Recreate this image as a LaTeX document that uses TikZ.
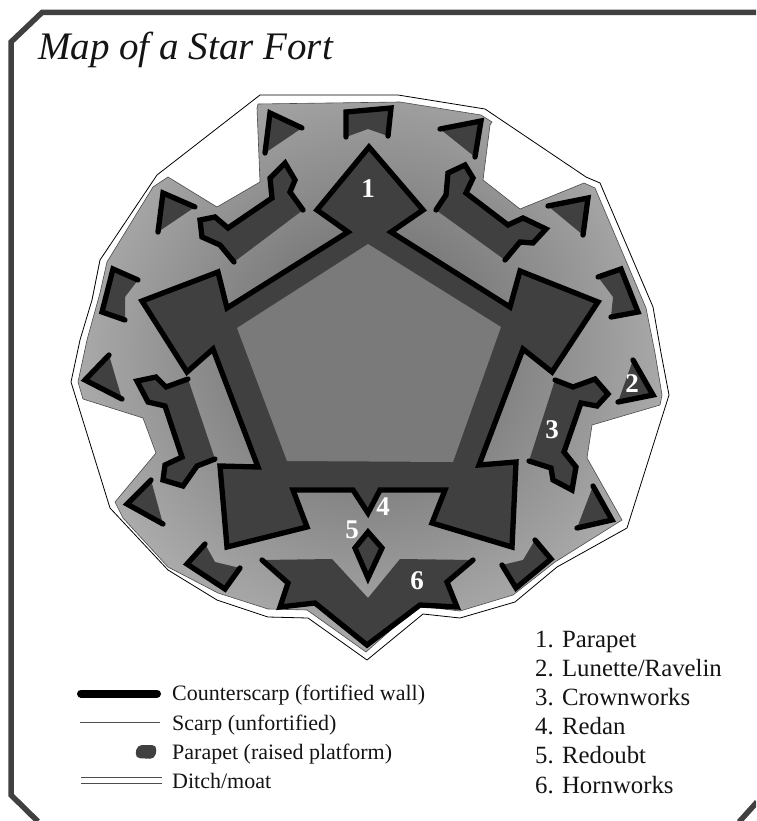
\documentclass[tikz,border=0pt]{standalone}
\usepackage{fontspec}
\setmainfont{Liberation Serif}
\definecolor{dk}{gray}{0.25}
\definecolor{framec}{gray}{0.25}
\definecolor{txt}{gray}{0.08}
\newcommand{\ditchpath}{(258,104) -- (400,102) -- (481,115) -- (492,122) -- (490,125) -- (483,180) -- (520,209) -- (584,183) -- (595,188) -- (646,308) -- (655,353) -- (662,395) -- (660,405) -- (592,425) -- (587,458) -- (622,520) -- (555,562) -- (513,595) -- (460,611) -- (418,606) -- (366,652) -- (307,610) -- (268,609) -- (218,593) -- (168,567) -- (123,518) -- (115,502) -- (156,453) -- (143,418) -- (83,399) -- (78,382) -- (87,340) -- (100,293) -- (107,262) -- (153,187) -- (168,177) -- (217,207) -- (260,182) -- (257,108) -- cycle}
\tikzset{
  wall/.style={line width=5.3pt,black,line cap=round,line join=miter,miter limit=6},
  work/.style={fill=dk,draw=none},
  thinline/.style={line width=0.8pt,black,line join=round},
  num/.style={text=white,font=\fontsize{27}{27}\selectfont\bfseries,anchor=center,inner sep=0pt},
  legendtext/.style={text=txt,font=\fontsize{22}{22}\selectfont,anchor=base west,inner sep=0pt},
  listtext/.style={text=txt,font=\fontsize{24.8}{25}\selectfont,anchor=base west,inner sep=0pt},
}
\begin{document}
\begin{tikzpicture}[x=1pt,y=-1pt]
\useasboundingbox (0,0) rectangle (756,821);
\clip (0,0) rectangle (756,821);
% frame
\draw[framec,line width=5.5pt,line join=miter] (756,12.5) -- (42,12.5) -- (11,42) -- (11,795) -- (38,821.5);
\draw[framec,line width=5.5pt] (739,822) -- (757,802);
% scarp / ditch
\draw[thinline,fill=white] (260,95) -- (398,95) -- (485,109) -- (586,177) -- (600,183) -- (653,307) -- (661,353) -- (669,395) -- (627,528) -- (557,567) -- (515,602) -- (460,618) -- (423,614) -- (367,660) -- (308,618) -- (268,617) -- (217,600) -- (168,570) -- (110,508) -- (71,382) -- (80,340) -- (92,300) -- (100,260) -- (157,175) -- cycle;
% graded ground
\begin{scope}
\clip \ditchpath;
\shade[inner color=black!62,outer color=black!30] (372,350) circle (330);
\end{scope}
\draw[line width=0.6pt,black!70] \ditchpath;
% main fort
\draw[wall,fill=dk] (348,232) -- (317,210) -- (369,147) -- (423,210) -- (391,232) -- (510,307) -- (520,271) -- (598,302) -- (552,372) -- (523,349) -- (479,465) -- (516,462) -- (512,547) -- (432,523) -- (445,490) -- (380,490) -- (368,513) -- (353,490) -- (293,490) -- (307,527) -- (227,547) -- (220,466) -- (258,467) -- (213,349) -- (187,372) -- (142,301) -- (218,272) -- (227,308) -- cycle;
\fill[black!52] (368,244) -- (501,327) -- (453,462) -- (287,461) -- (237,328) -- cycle;
% redoubt
\draw[wall,fill=dk] (368,532) -- (355,548) -- (368,578) -- (382,548) -- cycle;
% hornwork
\fill[work] (262,560) -- (332,559) -- (368,598) -- (400,559) -- (473,560) -- (447,582) -- (457,607) -- (420,605) -- (367,645) -- (315,603) -- (280,607) -- (288,583) -- cycle;
\draw[wall] (262,560) -- (288,583) -- (280,607) -- (315,603) -- (367,645) -- (420,605) -- (457,607) -- (447,582) -- (473,560);
% crownworks
\draw[wall,fill=dk] (303,210) -- (290,192) -- (295,180) -- (285,163) -- (270,178) -- (272,198) -- (228,228) -- (215,217) -- (200,220) -- (202,237) -- (220,245) -- (234,262);
\draw[wall,fill=dk] (436,210) -- (446,195) -- (448,173) -- (465,165) -- (473,178) -- (466,193) -- (508,225) -- (523,218) -- (546,229) -- (533,243) -- (520,242) -- (505,260);
\draw[wall,fill=dk] (188,379) -- (166,387) -- (156,377) -- (137,381) -- (148,402) -- (165,406) -- (182,457) -- (165,465) -- (163,480) -- (183,486) -- (197,466) -- (215,459);
\draw[wall,fill=dk] (555,380) -- (573,387) -- (595,379) -- (608,394) -- (597,406) -- (581,403) -- (564,452) -- (576,467) -- (572,490) -- (553,480) -- (551,468) -- (529,461);
% lunettes
\draw[wall,fill=dk] (302,128) -- (270,113) -- (265,153);
\draw[wall,fill=dk] (195,207) -- (163,193) -- (158,232);
\fill[work] (346,137) -- (346,112) -- (391,108) -- (388,136) -- (368,129) -- cycle;
\draw[wall] (346,137) -- (346,112) -- (391,108) -- (388,136);
\draw[wall,fill=dk] (440,129) -- (481,121) -- (475,157);
\draw[wall,fill=dk] (548,206) -- (588,198) -- (583,235);
\fill[work] (598,277) -- (621,269) -- (638,312) -- (611,317) -- (613,297) -- cycle;
\draw[wall] (598,277) -- (621,269) -- (638,312) -- (611,317);
\draw[wall,fill=dk] (633,360) -- (653,395) -- (618,402);
\draw[wall,fill=dk] (593,486) -- (612,520) -- (577,528);
\fill[work] (535,540) -- (551,559) -- (516,588) -- (502,565) -- (523,560) -- cycle;
\draw[wall] (535,540) -- (551,559) -- (516,588) -- (502,565);
\fill[work] (205,544) -- (215,562) -- (240,568) -- (225,589) -- (187,564) -- cycle;
\draw[wall] (205,544) -- (187,564) -- (225,589) -- (240,568);
\draw[wall,fill=dk] (151,480) -- (127,504) -- (163,524);
\draw[wall,fill=dk] (109,355) -- (85,380) -- (122,399);
\fill[work] (138,280) -- (113,269) -- (102,312) -- (125,320) -- (125,297) -- cycle;
\draw[wall] (138,280) -- (113,269) -- (102,312) -- (125,320);
% numbers
\node[num] (n1) at (368,189) {1};
\node[num] (n2) at (632,384) {2};
\node[num] (n3) at (552,430) {3};
\node[num] (n4) at (383,507) {4};
\node[num] (n5) at (352,530) {5};
\node[num] (n6) at (417,581) {6};
% title
\node[text=txt,font=\fontsize{39}{39}\selectfont\itshape,anchor=base west,inner sep=0pt] (title) at (38,60) {Map of a Star Fort};
% legend left
\draw[line width=8pt,line cap=round,black] (81,693.5) -- (157,693.5);
\draw[line width=0.7pt,black!70] (80,722) -- (160,722);
\fill[dk,rounded corners=5pt] (137,745) -- (157,745) -- (155,759) -- (135,758) -- cycle;
\draw[line width=0.7pt,black!70] (81,777) -- (162,777);
\draw[line width=0.7pt,black!70] (81,783) -- (162,783);
\node[legendtext] (l1) at (172,700) {Counterscarp (fortified wall)};
\node[legendtext] (l2) at (172,730) {Scarp (unfortified)};
\node[legendtext] (l3) at (172,759) {Parapet (raised platform)};
\node[legendtext] (l4) at (172,788) {Ditch/moat};
% legend right
\node[listtext] (k1) at (535,647) {1. Parapet};
\node[listtext] (k2) at (535,676) {2. Lunette/Ravelin};
\node[listtext] (k3) at (535,705) {3. Crownworks};
\node[listtext] (k4) at (535,734) {4. Redan};
\node[listtext] (k5) at (535,763) {5. Redoubt};
\node[listtext] (k6) at (535,793) {6. Hornworks};
\end{tikzpicture}
\end{document}
